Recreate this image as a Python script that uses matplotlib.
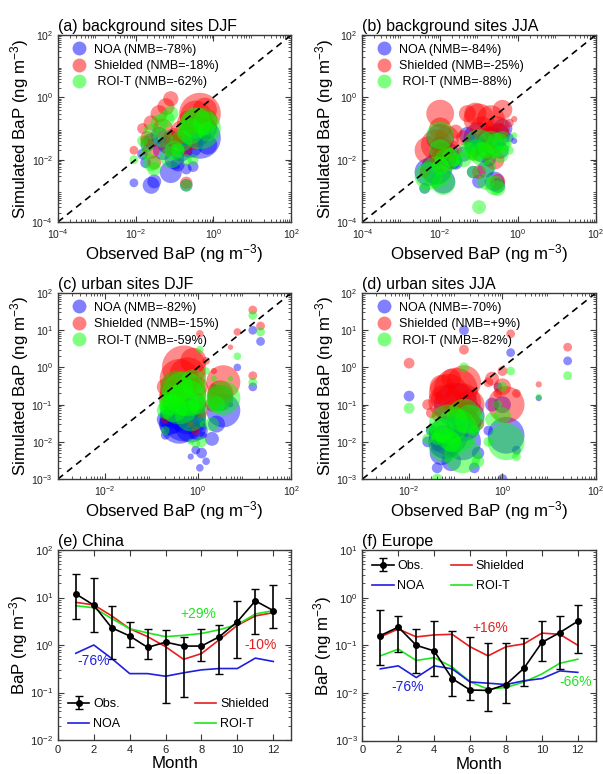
import matplotlib
matplotlib.use("Agg")
import matplotlib.pyplot as plt
import numpy as np
from matplotlib.lines import Line2D
from matplotlib.ticker import LogLocator, NullFormatter, FixedLocator

plt.rcParams.update({
    "font.family": ["Liberation Sans", "DejaVu Sans"],
    "mathtext.default": "regular",
    "xtick.direction": "in",
    "ytick.direction": "in",
    "xtick.top": True,
    "ytick.right": True,
    "axes.edgecolor": "#3a3a3a",
    "axes.linewidth": 1.0,
    "xtick.color": "#3a3a3a",
    "ytick.color": "#3a3a3a",
    "xtick.labelcolor": "#222222",
    "ytick.labelcolor": "#222222",
})

# ---- (a) background sites DJF: obs, bubble size, simulated by each scheme
A_OBS = [0.45, 0.35, 0.25, 0.6, 0.15, 0.1, 0.08, 0.06, 0.08, 0.05, 0.04, 0.025,
         0.02, 0.025, 0.03, 0.009, 0.2, 0.3, 0.2, 0.12, 0.7, 0.015, 0.018]
A_SIZE = [900, 500, 350, 300, 250, 200, 250, 150, 120, 200, 150, 120,
          100, 150, 100, 40, 80, 60, 60, 100, 200, 60, 60]
A_NOA = [0.05, 0.08, 0.03, 0.1, 0.02, 0.01, 0.004, 0.03, 0.05, 0.02, 0.06, 0.04,
         0.03, 0.0015, 0.002, 0.0018, 0.0015, 0.006, 0.005, 0.007, 0.03, 0.015, 0.008]
A_SHI = [0.3, 0.25, 0.15, 0.4, 0.08, 0.05, 0.03, 0.5, 0.9, 0.1, 0.3, 0.15,
         0.05, 0.02, 0.008, 0.02, 0.0018, 0.03, 0.02, 0.05, 0.2, 0.1, 0.04]
A_ROI = [0.1, 0.15, 0.08, 0.15, 0.04, 0.02, 0.012, 0.2, 0.3, 0.05, 0.15, 0.08,
         0.03, 0.008, 0.005, 0.01, 0.0015, 0.01, 0.01, 0.02, 0.08, 0.04, 0.015]

# ---- (b) background sites JJA
B_OBS = [0.01, 0.008, 0.012, 0.01, 0.015, 0.02, 0.005, 0.004, 0.01, 0.025,
         0.1, 0.12, 0.08, 0.2, 0.3, 0.4, 0.05, 0.15, 0.25, 0.1, 0.07, 0.3,
         0.6, 0.8, 0.04, 0.18, 0.35]
B_SIZE = [400, 500, 300, 250, 300, 200, 400, 60, 150, 100,
          500, 300, 250, 400, 300, 200, 150, 150, 200, 100, 80, 120,
          40, 20, 120, 100, 150]
B_NOA = [0.05, 0.005, 0.002, 0.015, 0.015, 0.01, 0.004, 0.0012, 0.03, 0.008,
         0.05, 0.02, 0.03, 0.04, 0.06, 0.1, 0.06, 0.005, 0.002, 0.002, 0.004, 0.0015,
         0.05, 0.04, 0.015, 0.01, 0.02]
B_SHI = [0.3, 0.03, 0.01, 0.1, 0.05, 0.02, 0.02, 0.004, 0.015, 0.08,
         0.2, 0.1, 0.3, 0.2, 0.1, 0.4, 0.3, 0.02, 0.01, 0.004, 0.015, 0.002,
         0.15, 0.2, 0.05, 0.03, 0.08]
B_ROI = [0.06, 0.004, 0.0018, 0.02, 0.01, 0.012, 0.003, 0.0012, 0.006, 0.01,
         0.03, 0.015, 0.02, 0.03, 0.03, 0.04, 0.02, 0.002, 0.0015, 0.0003, 0.004, 0.0012,
         0.02, 0.06, 0.01, 0.006, 0.015]

# ---- (c) urban sites DJF
C_OBS = [0.5, 0.4, 0.6, 0.35, 0.7, 0.3, 0.25, 0.8, 0.2, 1.0, 3.5, 3.0, 2.5, 2.0,
         1.2, 1.1, 15, 22, 15, 0.9, 0.2, 7, 1.5, 5, 2.2, 0.7, 1.3]
C_SIZE = [1000, 800, 700, 550, 500, 400, 250, 350, 150, 200, 600, 350, 150, 100,
          60, 30, 40, 40, 40, 40, 40, 30, 30, 15, 20, 20, 25]
C_NOA = [0.04, 0.03, 0.05, 0.06, 0.025, 0.04, 0.03, 0.1, 0.04, 0.02, 0.07, 0.15, 0.03, 0.012,
         0.005, 0.002, 10, 5, 0.3, 0.006, 0.015, 1.0, 0.003, 0.1, 0.3, 0.004, 0.015]
C_SHI = [1.0, 0.5, 0.6, 0.3, 0.2, 0.2, 0.15, 1.5, 0.3, 0.3, 0.4, 0.2, 0.2, 0.1,
         0.06, 8.0, 35, 13, 0.6, 0.02, 0.04, 9, 1.5, 3.5, 0.8, 0.03, 0.1]
C_ROI = [0.2, 0.1, 0.15, 0.3, 0.05, 0.08, 0.1, 0.4, 0.07, 0.1, 0.15, 0.15, 0.1, 0.03,
         0.01, 3.0, 25, 9, 0.4, 0.009, 0.02, 2.0, 0.8, 0.5, 0.5, 0.01, 0.03]

# ---- (d) urban sites JJA
D_OBS = [0.1, 0.07, 0.15, 0.06, 0.14, 0.2, 0.05, 0.08, 1.2, 1.0, 0.6, 0.01, 0.025,
         0.03, 25, 6, 0.04, 0.15, 1.5, 0.3, 0.25, 1.0, 2, 0.5, 0.8, 0.04]
D_SIZE = [1000, 800, 600, 600, 700, 450, 300, 200, 700, 150, 100, 60, 60,
          60, 40, 20, 60, 50, 40, 80, 60, 50, 40, 50, 40, 80]
D_NOA = [0.1, 0.015, 0.03, 0.01, 0.01, 0.05, 0.005, 0.003, 0.015, 0.1, 0.1, 0.17, 0.01,
         0.02, 1.5, 0.15, 0.002, 10, 2.5, 0.005, 0.002, 0.001, 0.006, 0.02, 0.3, 0.008]
D_SHI = [0.25, 0.2, 0.4, 0.12, 0.12, 0.1, 0.3, 0.5, 0.1, 0.3, 0.5, 1.3, 0.1,
         0.06, 3.5, 0.35, 0.05, 3, 8, 0.03, 0.04, 0.8, 0.2, 0.4, 0.2, 0.15]
D_ROI = [0.02, 0.03, 0.05, 0.008, 0.0045, 0.04, 0.02, 0.01, 0.01, 0.05, 0.04, 0.08, 0.012,
         0.02, 0.6, 0.16, 0.001, 1, 0.8, 0.003, 0.02, 0.3, 0.004, 0.01, 0.1, 0.012]

# ---- monthly means
MONTHS = list(range(1, 13))
CN_OBS = [11.9, 6.9, 2.3, 1.55, 0.89, 1.15, 0.95, 0.95, 1.5, 3.1, 8.5, 5.3]
CN_OBS_HI = [31, 26, 6.6, 3.0, 2.2, 2.1, 1.45, 2.2, 2.6, 8.5, 15, 18]
CN_OBS_LO = [3.5, 1.9, 0.5, 0.92, 0.51, 0.06, 0.08, 0.47, 0.25, 0.54, 1.7, 2.3]
CN_SHI = [7.9, 7.0, 4.1, 2.2, 1.5, 0.92, 0.5, 0.66, 1.3, 2.6, 4.1, 4.8]
CN_ROI = [6.7, 6.1, 3.6, 2.2, 1.8, 1.5, 1.6, 1.75, 2.1, 2.7, 4.5, 5.3]
CN_NOA = [0.67, 1.0, 0.52, 0.25, 0.25, 0.22, 0.26, 0.3, 0.32, 0.32, 0.53, 0.45]

EU_OBS = [0.16, 0.24, 0.1, 0.076, 0.02, 0.0115, 0.0113, 0.015, 0.033, 0.115, 0.185, 0.32]
EU_OBS_HI = [0.55, 0.42, 0.22, 0.33, 0.2, 0.15, 0.11, 0.11, 0.14, 0.33, 0.42, 0.7]
EU_OBS_LO = [0.039, 0.071, 0.026, 0.023, 0.0088, 0.007, 0.0041, 0.006, 0.014, 0.046, 0.032, 0.068]
EU_SHI = [0.15, 0.22, 0.15, 0.165, 0.17, 0.093, 0.06, 0.093, 0.107, 0.18, 0.17, 0.1]
EU_ROI = [0.06, 0.083, 0.048, 0.055, 0.035, 0.017, 0.012, 0.013, 0.017, 0.025, 0.042, 0.051]
EU_NOA = [0.032, 0.037, 0.021, 0.037, 0.032, 0.017, 0.016, 0.015, 0.018, 0.02, 0.029, 0.027]

BLUE, RED, GREEN = "#0000ff", "#ff0000", "#00ff00"
LBLUE, LRED, LGREEN = "#1f1fdf", "#e81e1e", "#1ee61e"

LEFT, RIGHT, WIDTH = 0.096, 0.601, 0.387


def style_log(ax, lim, xmajor, ymajor):
    ax.set_xscale("log")
    ax.set_yscale("log")
    ax.set_xlim(*lim[0])
    ax.set_ylim(*lim[1])
    ax.xaxis.set_major_locator(FixedLocator(xmajor))
    ax.yaxis.set_major_locator(FixedLocator(ymajor))
    for axis in (ax.xaxis, ax.yaxis):
        axis.set_minor_locator(LogLocator(base=10, subs=np.arange(2, 10), numticks=100))
        axis.set_minor_formatter(NullFormatter())
    ax.tick_params(which="major", length=4, labelsize=7.5)
    ax.tick_params(which="minor", length=2)


def scatter_panel(rect, title, obs, size, noa, shi, roi, nmb, lim, xmajor, ymajor):
    ax = fig.add_axes(rect)
    ax.scatter(obs, noa, s=size, color=BLUE, alpha=0.45, lw=0)
    ax.scatter(obs, shi, s=size, color=RED, alpha=0.45, lw=0)
    ax.scatter(obs, roi, s=size, color=GREEN, alpha=0.45, lw=0)
    lo, hi = lim[0][0], lim[0][1]
    ax.plot([lo, hi], [lo, hi], "k--", lw=1.2, dashes=(4, 3))
    style_log(ax, lim, xmajor, ymajor)
    ax.set_title(title, loc="left", fontsize=11.5, pad=3)
    ax.set_xlabel("Observed BaP (ng m$^{-3}$)", fontsize=12.2, labelpad=1)
    ax.set_ylabel("Simulated BaP (ng m$^{-3}$)", fontsize=12.2, labelpad=0)
    handles = [Line2D([], [], ls="", marker="o", ms=10, mec="none", mfc=c, alpha=0.5)
               for c in (BLUE, RED, GREEN)]
    labels = [f"NOA (NMB={nmb[0]})", f"Shielded (NMB={nmb[1]})", f" ROI-T (NMB={nmb[2]})"]
    ax.legend(handles, labels, loc="upper left", frameon=False, fontsize=9,
              handletextpad=0.2, borderaxespad=0.3, labelspacing=0.35)
    return ax


def month_panel(rect, title, obs, lo, hi, noa, shi, roi, ylim, yticks, notes, legloc, colspace):
    ax = fig.add_axes(rect)
    ax.plot(MONTHS, shi, color=LRED, lw=1.2, label="Shielded")
    ax.plot(MONTHS, roi, color=LGREEN, lw=1.2, label="ROI-T")
    ax.plot(MONTHS, noa, color=LBLUE, lw=1.2, label="NOA")
    obs = np.array(obs)
    err = [obs - np.array(lo), np.array(hi) - obs]
    ax.errorbar(MONTHS, obs, yerr=err, fmt="-o", color="k", ms=4, lw=1.2,
                elinewidth=1.2, capsize=3, label="Obs.")
    ax.set_yscale("log")
    ax.set_xlim(0, 13)
    ax.set_ylim(*ylim)
    ax.set_xticks([0, 2, 4, 6, 8, 10, 12])
    ax.yaxis.set_major_locator(FixedLocator(yticks))
    ax.yaxis.set_minor_locator(LogLocator(base=10, subs=np.arange(2, 10), numticks=100))
    ax.yaxis.set_minor_formatter(NullFormatter())
    ax.tick_params(which="major", length=4, labelsize=8)
    ax.tick_params(which="minor", length=2)
    ax.set_title(title, loc="left", fontsize=11.5, pad=3)
    ax.set_xlabel("Month", fontsize=12.2, labelpad=1)
    ax.set_ylabel("BaP (ng m$^{-3}$)", fontsize=12.2, labelpad=0)
    for x, y, txt, c in notes:
        ax.text(x, y, txt, color=c, fontsize=10, ha="center", va="center")
    h, l = ax.get_legend_handles_labels()
    order = [l.index(n) for n in ("Obs.", "NOA", "Shielded", "ROI-T")]
    ax.legend([h[i] for i in order], [l[i] for i in order], ncol=2, loc=legloc,
              frameon=False, fontsize=9, columnspacing=colspace, handlelength=1.7,
              handletextpad=0.3, labelspacing=0.65, borderaxespad=0.4)
    return ax


fig = plt.figure(figsize=(6.03, 7.74), dpi=100)

bg_lim = ((1e-4, 1e2), (1e-4, 1e2))
bg_ticks = [1e-4, 1e-2, 1e0, 1e2]
scatter_panel([LEFT, 0.7132, WIDTH, 0.2416], "(a) background sites DJF",
              A_OBS, A_SIZE, A_NOA, A_SHI, A_ROI, ("-78%", "-18%", "-62%"),
              bg_lim, bg_ticks, bg_ticks)
scatter_panel([RIGHT, 0.7132, WIDTH, 0.2416], "(b) background sites JJA",
              B_OBS, B_SIZE, B_NOA, B_SHI, B_ROI, ("-84%", "-25%", "-88%"),
              bg_lim, bg_ticks, bg_ticks)

ur_lim = ((1e-3, 1e2), (1e-3, 1e2))
ur_x = [1e-2, 1e0, 1e2]
ur_y = [1e-3, 1e-2, 1e-1, 1e0, 1e1, 1e2]
scatter_panel([LEFT, 0.3811, WIDTH, 0.2403], "(c) urban sites DJF",
              C_OBS, C_SIZE, C_NOA, C_SHI, C_ROI, ("-82%", "-15%", "-59%"),
              ur_lim, ur_x, ur_y)
scatter_panel([RIGHT, 0.3811, WIDTH, 0.2403], "(d) urban sites JJA",
              D_OBS, D_SIZE, D_NOA, D_SHI, D_ROI, ("-70%", "+9%", "-82%"),
              ur_lim, ur_x, ur_y)

month_panel([LEFT, 0.0439, WIDTH, 0.2455], "(e) China",
            CN_OBS, CN_OBS_LO, CN_OBS_HI, CN_NOA, CN_SHI, CN_ROI,
            (1e-2, 1e2), [1e-2, 1e-1, 1e0, 1e1, 1e2],
            [(7.8, 4.6, "+29%", LGREEN), (11.3, 1.0, "-10%", LRED), (2.0, 0.45, "-76%", LBLUE)],
            "lower left", 6.0)
month_panel([RIGHT, 0.0432, WIDTH, 0.2462], "(f) Europe",
            EU_OBS, EU_OBS_LO, EU_OBS_HI, EU_NOA, EU_SHI, EU_ROI,
            (1e-3, 1e1), [1e-3, 1e-2, 1e-1, 1e0, 1e1],
            [(7.1, 0.23, "+16%", LRED), (2.5, 0.013, "-76%", LBLUE), (11.9, 0.017, "-66%", LGREEN)],
            "upper left", 2.1)

fig.savefig("out.png", dpi=100)
